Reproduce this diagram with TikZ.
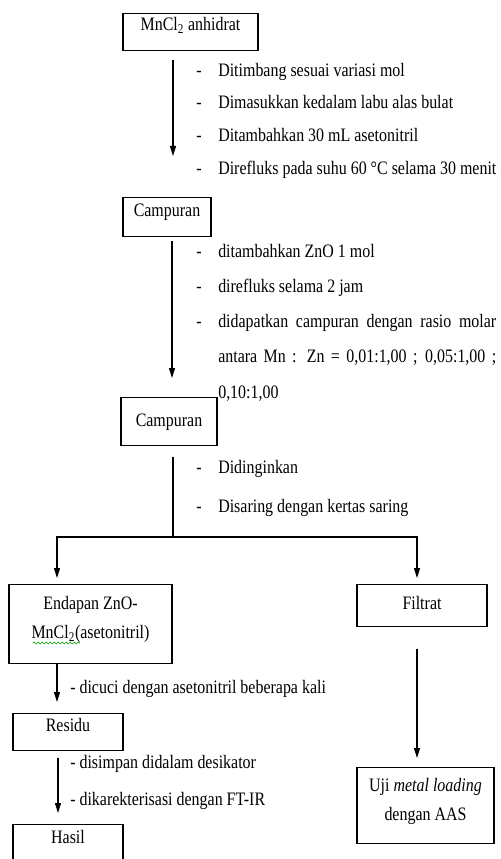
\documentclass[tikz,border=0pt]{standalone}
\usepackage{fontspec}
\setmainfont{Liberation Serif}[FakeStretch=0.84]
\usetikzlibrary{arrows.meta,decorations.pathmorphing}

\begin{document}
\begin{tikzpicture}[x=0.75pt,y=-0.75pt,>={Triangle[length=7.5pt,width=4.5pt]}]
\tikzstyle{every node}=[font=\fontsize{14.25pt}{21.75pt}\selectfont, inner sep=0pt]
\tikzstyle{box}=[draw, line width=0.9pt, anchor=north]
\tikzstyle{note}=[anchor=base west]
\tikzstyle{flow}=[->, line width=0.8pt]
\useasboundingbox (0,0) rectangle (500,859);
\clip (0,0) rectangle (500,859);

% boxes
\node[box, minimum width=101.25pt, text height=12.75pt, text depth=15pt] (mncl) at (190.5,13) {MnCl\textsubscript{2} anhidrat};
\node[box, minimum width=66pt, text height=14.25pt, text depth=15pt] (camp1) at (167,197) {Campuran};
\node[box, minimum width=72pt, text height=21.75pt, text depth=14.25pt] (camp2) at (169,397) {Campuran};
\node[box, minimum width=122.25pt, text height=18.75pt, text depth=40.5pt] (endapan) at (90.5,584)
  {\begin{tabular}[t]{@{}c@{}}Endapan ZnO-\\MnCl\textsubscript{2}(asetonitril)\end{tabular}};
\node[box, minimum width=97.5pt, text height=18.75pt, text depth=12.75pt] (filtrat) at (422,584) {Filtrat};
\node[box, minimum width=82.5pt, text height=13.5pt, text depth=14.25pt] (residu) at (68,713) {Residu};
\node[box, minimum width=82.5pt, text height=14.25pt, text depth=30pt] (hasil) at (68,824) {Hasil};
\node[box, minimum width=102.75pt, text height=18pt, text depth=39pt] (uji) at (425.5,767)
  {\begin{tabular}[t]{@{}c@{}}Uji \textit{metal loading}\\dengan AAS\end{tabular}};
\draw[green!60!black, line width=0.5pt, decorate, decoration={snake, amplitude=0.7pt, segment length=3pt}] (33,643) -- (80,643);

% steps
\node[note] (b1) at (196,77) {\makebox[16.5pt][l]{-}Ditimbang sesuai variasi mol};
\node[note] (b2) at (196,109) {\makebox[16.5pt][l]{-}Dimasukkan kedalam labu alas bulat};
\node[note] (b3) at (196,142) {\makebox[16.5pt][l]{-}Ditambahkan 30 mL asetonitril};
\node[note] (b4) at (196,175) {\makebox[16.5pt][l]{-}Direfluks pada suhu 60 °C selama 30 menit};

\node[note] (c1) at (196,257) {\makebox[16.5pt][l]{-}ditambahkan ZnO 1 mol};
\node[note] (c2) at (196,292) {\makebox[16.5pt][l]{-}direfluks selama 2 jam};
\node[note] (c3) at (196,327) {\makebox[16.5pt][l]{-}\makebox[208.5pt][s]{didapatkan campuran dengan rasio molar}};
\node[note] (c4) at (218,362) {\makebox[208.5pt][s]{antara Mn : Zn = 0,01:1,00 ; 0,05:1,00 ;}};
\node[note] (c5) at (218,398) {0,10:1,00};

\node[note] (d1) at (196,473) {\makebox[16.5pt][l]{-}Didinginkan};
\node[note] (d2) at (196,512) {\makebox[16.5pt][l]{-}Disaring dengan kertas saring};

\node[note] (e1) at (70,693) {- dicuci dengan asetonitril beberapa kali};
\node[note] (f1) at (70,768) {- disimpan didalam desikator};
\node[note] (f2) at (70,805) {- dikarekterisasi dengan FT-IR};

% connectors
\coordinate (a1) at (173,60);
\coordinate (a2) at (173,156);
\coordinate (a3) at (172,241);
\coordinate (a4) at (172,378);
\coordinate (s0) at (173,457);
\coordinate (split) at (173,537);
\coordinate (left) at (57,578);
\coordinate (right) at (417,578);
\coordinate (r1) at (57,702);
\coordinate (h0) at (58,758);
\coordinate (h1) at (58,813);
\coordinate (u0) at (417,649);
\coordinate (u1) at (417,758);

\draw[flow] (a1) -- (a2);
\draw[flow] (a3) -- (a4);
\draw[line width=0.8pt] (s0) -- (split);
\draw[flow] (split) -| (left);
\draw[flow] (split) -| (right);
\draw[flow] (r1 |- endapan.south) -- (r1);
\draw[flow] (h0) -- (h1);
\draw[flow] (u0) -- (u1);
\end{tikzpicture}
\end{document}
